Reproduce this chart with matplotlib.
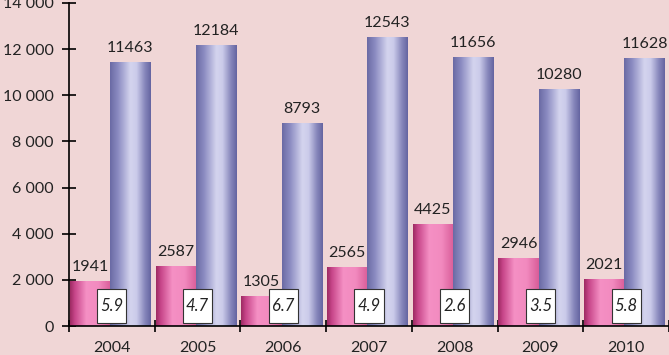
import numpy as np
import matplotlib.pyplot as plt
from matplotlib.colors import LinearSegmentedColormap
from matplotlib.patches import Rectangle

years = ["2004", "2005", "2006", "2007", "2008", "2009", "2010"]
pink_vals = [1941, 2587, 1305, 2565, 4425, 2946, 2021]
blue_vals = [11463, 12184, 8793, 12543, 11656, 10280, 11628]
box_vals = ["5.9", "4.7", "6.7", "4.9", "2.6", "3.5", "5.8"]
yticks = [0, 2000, 4000, 6000, 8000, 10000, 12000, 14000]
ytick_labels = ["0", "2 000", "4 000", "6 000", "8 000",
                "10 000", "12 000", "14 000"]

bg = "#f0d6d6"
plt.rcParams['font.family'] = ['Lato', 'DejaVu Sans']

pink_cmap = LinearSegmentedColormap.from_list(
    "pk", [(0, "#9c2a62"), (0.12, "#c8468a"), (0.4, "#f590c4"), (0.7, "#f28abf"), (1, "#d85c98")])
blue_cmap = LinearSegmentedColormap.from_list(
    "bl", [(0, "#6a6aa4"), (0.2, "#8c8cc2"), (0.5, "#d4d4ee"), (0.65, "#cbcbea"), (0.85, "#8888bc"), (1, "#6464a0")])

fig = plt.figure(figsize=(6.69, 3.55), dpi=100, facecolor=bg)
ax = fig.add_axes([69/669, 1 - 326/355, 600/669, 323/355])
ax.set_facecolor(bg)

x = np.arange(len(years))
w = 0.47
grad = np.linspace(0, 1, 256).reshape(1, -1)

def shade(bars, cmap):
    for b in bars:
        x0, y0 = b.get_x(), b.get_y()
        im = ax.imshow(grad, cmap=cmap, aspect='auto', zorder=2,
                       extent=[x0, x0 + b.get_width(), y0, y0 + b.get_height()])
        im.set_clip_path(b)
        b.set_alpha(0)

pb = ax.bar(x - 0.255, pink_vals, w, color="#e070a8", zorder=2)
bb = ax.bar(x + 0.215, blue_vals, w, color="#a0a0d0", zorder=2)
shade(pb, pink_cmap)
shade(bb, blue_cmap)

for i in range(len(years)):
    ax.text(x[i] - 0.255, pink_vals[i] + 300, str(pink_vals[i]), ha='center', va='bottom',
            fontsize=11.5, color="#222222", zorder=4)
    ax.text(x[i] + 0.215, blue_vals[i] + 300, str(blue_vals[i]), ha='center', va='bottom',
            fontsize=11.5, color="#222222", zorder=4)
    ax.add_patch(Rectangle((x[i] - 0.17, 130), 0.34, 1470, facecolor="white",
                           edgecolor="#333333", lw=0.8, zorder=5))
    ax.text(x[i], 865, box_vals[i], ha='center', va='center', fontsize=12,
            style='italic', color="#222222", zorder=6)

ax.set_xlim(-0.5, 6.5)
ax.set_ylim(0, 14000)
ax.set_yticks(yticks)
ax.set_yticklabels(ytick_labels)
ax.set_xticks(np.arange(-0.5, 7, 1))
ax.set_xticklabels([])
ax.set_xticks(x, minor=True)
ax.set_xticklabels(years, minor=True)
ax.tick_params(axis='x', which='minor', length=0, pad=11, labelsize=11.5, labelcolor="#222222")
ax.tick_params(axis='x', which='major', direction='inout', length=8, width=1.2)
ax.tick_params(axis='y', direction='inout', length=10, width=1.2, pad=6,
               labelsize=11.5, labelcolor="#222222")
for s in ['top', 'right']:
    ax.spines[s].set_visible(False)
ax.spines['left'].set_linewidth(1.2)
ax.spines['bottom'].set_linewidth(1.2)
ax.spines['left'].set_zorder(3)
ax.spines['bottom'].set_zorder(3)

fig.savefig("out.png", dpi=100, facecolor=bg)
